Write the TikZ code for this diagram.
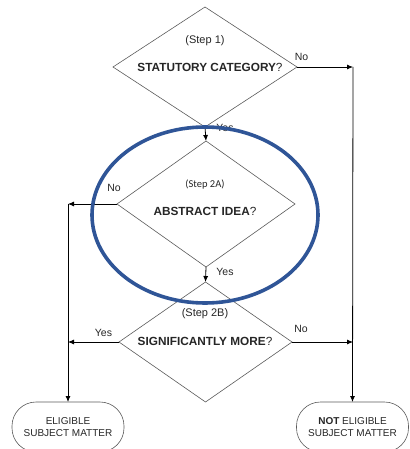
\documentclass[tikz,border=0pt]{standalone}
\usepackage{fontspec}
\setmainfont{Liberation Sans}
\newfontfamily\calibfont{Carlito}
\usetikzlibrary{shapes.geometric,arrows.meta}
\definecolor{ringblue}{HTML}{2F5597}
\definecolor{edgegrey}{HTML}{5A5A5A}
\definecolor{inkgrey}{HTML}{262626}
\begin{document}
\begin{tikzpicture}[x=1pt,y=-1pt,
  dia/.style={diamond, draw=edgegrey, line width=0.6pt, inner sep=0pt, outer sep=0pt},
  term/.style={draw=edgegrey, line width=0.6pt, rounded corners=24pt, minimum width=112pt,
    minimum height=50pt, inner sep=0pt, outer sep=0pt, align=center,
    font=\fontsize{10}{12}\selectfont, text=inkgrey},
  question/.style={font=\fontsize{11.8}{13}\selectfont, text=inkgrey, inner sep=0pt},
  stepnote/.style={font=\fontsize{11}{12}\selectfont, text=inkgrey, inner sep=0pt},
  lbl/.style={font=\fontsize{10.5}{12}\selectfont, text=inkgrey, inner sep=0pt},
  arr/.style={draw=black, line width=0.8pt, -{Latex[length=6pt,width=5pt]}},
  ring/.style={ellipse, draw=ringblue, line width=3.6pt, inner sep=0pt}]
\useasboundingbox (0,0) rectangle (409,449);
\clip (0,0) rectangle (409,449);

% decision diamonds
\node[dia, minimum width=184pt, minimum height=120pt] (d1) at (205,67) {};
\node[dia, minimum width=178pt, minimum height=126pt] (d2) at (206,204) {};
\node[dia, minimum width=173pt, minimum height=120pt] (d3) at (205.5,342) {};

% terminals (cut by the lower edge)
\node[term] (t1) at (68,427) {ELIGIBLE\\SUBJECT MATTER};
\node[term] (t2) at (352.5,427) {\textbf{NOT} ELIGIBLE\\SUBJECT MATTER};

% texts inside the diamonds
\node[stepnote] (s1) at (205,41) {(Step 1)};
\node[question] (q1) at (210,67) {\textbf{STATUTORY CATEGORY}?};
\node[stepnote, font=\calibfont\fontsize{10.5}{12}\selectfont] (s2) at (205,185) {(Step 2A)};
\node[question] (q2) at (205,211) {\textbf{ABSTRACT IDEA}?};
\node[stepnote] (s3) at (205,314) {(Step 2B)};
\node[question] (q3) at (205,341) {\textbf{SIGNIFICANTLY MORE}?};

% corner points of the side lines
\coordinate (L1) at (68,204);
\coordinate (L2) at (68,342);
\coordinate (R1) at (353,67);
\coordinate (R2) at (353,342);

% connectors
\draw[arr] (d1.south) -- (d2.north);
\draw[arr] (d2.south) -- (d3.north);
\draw[arr] (d1.east) -- (R1);
\draw[arr] (R1) -- (t2.north);
\draw[arr] (d3.east) -- (R2);
\draw[arr] (d2.west) -- (L1);
\draw[arr] (L1) -- (t1.north);
\draw[arr] (d3.west) -- (L2);

% branch labels
\node[lbl] (n1) at (301.5,57) {No};
\node[lbl] (y1) at (225,128) {Yes};
\node[lbl] (n2) at (114,188) {No};
\node[lbl] (y2) at (225,272) {Yes};
\node[lbl] (y3) at (103.5,333) {Yes};
\node[lbl] (n3) at (301,329) {No};

% highlight ring around step 2A
\node[ring, minimum width=226pt, minimum height=176pt] (focus) at (205,215) {};
\end{tikzpicture}
\end{document}
